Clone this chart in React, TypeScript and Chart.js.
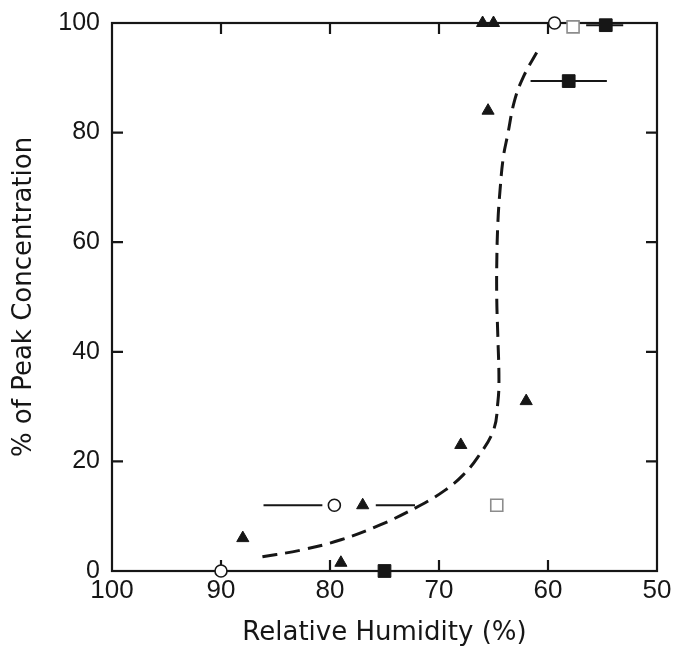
import React, { useEffect, useRef } from 'react';
import { Chart, registerables } from 'chart.js';

Chart.register(...registerables);

// ---- data ----
const triangleX = [88, 77, 79, 68, 65.5, 62, 66, 65];
const triangleY = [6, 12, 1.5, 23, 84, 31, 100, 100];

const openCircleX = [90, 79.6, 59.4];
const openCircleY = [0, 12, 100];

const openSquareX = [64.7, 57.7];
const openSquareY = [12, 99.3];

const filledSquareX = [75, 58.1, 54.7];
const filledSquareY = [0, 89.4, 99.6];

// horizontal error bars: y, from, to
const errorBarY = [0, 12, 100, 12, 0, 89.4, 99.6];
const errorBarFrom = [94.2, 86.1, 63.2, 75.8, 77.7, 61.6, 56.5];
const errorBarTo = [86.2, 80.7, 59.9, 72.2, 71.9, 54.6, 53.1];

// dashed fitted curve
const curveX = [86.2, 82.7, 79.0, 75.4, 71.7, 69.4, 67.8, 66.5, 65.0, 64.6, 64.5, 64.6, 64.7, 64.7, 64.6, 64.4, 64.1, 63.7, 63.1, 62.3, 60.9];
const curveY = [2.6, 3.8, 5.7, 8.4, 12.0, 14.8, 17.5, 20.6, 25.7, 30.8, 34.9, 42.7, 49.5, 56.2, 63.5, 69.5, 75.5, 79.6, 85.6, 90.0, 95.1];

const xTickMarks = [90, 80, 70, 60];
const yTickMarks = [20, 40, 60, 80];

const INK = '#161616';

const pts = (xs: number[], ys: number[]) => xs.map((x, i) => ({ x, y: ys[i] }));

export default function App() {
  const ref = useRef<HTMLCanvasElement>(null);

  useEffect(() => {
    const canvas = ref.current;
    if (!canvas) return;

    const framePlugin = {
      id: 'frameAndBars',
      beforeDatasetsDraw(chart: any) {
        const { ctx, chartArea: a, scales } = chart;
        const xs = scales.x;
        const ys = scales.y;
        ctx.save();
        ctx.strokeStyle = INK;
        ctx.lineWidth = 2.2;
        ctx.strokeRect(a.left, a.top, a.right - a.left, a.bottom - a.top);
        ctx.beginPath();
        for (const v of yTickMarks) {
          const py = ys.getPixelForValue(v);
          ctx.moveTo(a.left, py);
          ctx.lineTo(a.left + 11, py);
          ctx.moveTo(a.right, py);
          ctx.lineTo(a.right - 11, py);
        }
        for (const v of xTickMarks) {
          const px = xs.getPixelForValue(v);
          ctx.moveTo(px, a.bottom);
          ctx.lineTo(px, a.bottom - 11);
          ctx.moveTo(px, a.top);
          ctx.lineTo(px, a.top + 11);
        }
        ctx.stroke();
        ctx.lineWidth = 2;
        ctx.beginPath();
        for (let i = 0; i < errorBarY.length; i++) {
          const py = ys.getPixelForValue(errorBarY[i]);
          ctx.moveTo(xs.getPixelForValue(errorBarFrom[i]), py);
          ctx.lineTo(xs.getPixelForValue(errorBarTo[i]), py);
        }
        ctx.stroke();
        ctx.restore();
      },
    };

    const chart = new Chart(canvas, {
      type: 'scatter',
      data: {
        datasets: [
          {
            label: 'curve',
            data: pts(curveX, curveY),
            showLine: true,
            borderColor: INK,
            borderWidth: 3,
            borderDash: [15, 8],
            pointRadius: 0,
            tension: 0.4,
            clip: false,
          } as any,
          {
            label: 'triangles',
            data: pts(triangleX, triangleY),
            pointStyle: 'triangle',
            pointRadius: 7,
            backgroundColor: INK,
            borderColor: INK,
            borderWidth: 1,
            clip: false,
          },
          {
            label: 'open circles',
            data: pts(openCircleX, openCircleY),
            pointStyle: 'circle',
            pointRadius: 6,
            backgroundColor: '#ffffff',
            borderColor: INK,
            borderWidth: 1.6,
            clip: false,
          },
          {
            label: 'open squares',
            data: pts(openSquareX, openSquareY),
            pointStyle: 'rect',
            pointRadius: 8.5,
            backgroundColor: '#ffffff',
            borderColor: '#8c8c8c',
            borderWidth: 1.6,
            clip: false,
          },
          {
            label: 'filled squares',
            data: pts(filledSquareX, filledSquareY),
            pointStyle: 'rect',
            pointRadius: 9,
            backgroundColor: INK,
            borderColor: INK,
            borderWidth: 1,
            clip: false,
          },
        ],
      },
      options: {
        responsive: false,
        maintainAspectRatio: false,
        animation: false,
        devicePixelRatio: 1,
        layout: { padding: { left: 0, top: 23, right: 26, bottom: 0 } },
        plugins: { legend: { display: false }, tooltip: { enabled: false } },
        scales: {
          x: {
            type: 'linear',
            min: 50,
            max: 100,
            reverse: true,
            grid: { display: false, drawTicks: false },
            border: { display: false },
            ticks: {
              stepSize: 10,
              autoSkip: false,
              maxRotation: 0,
              padding: 4,
              color: INK,
              font: { family: '"Liberation Sans", Arial, sans-serif', size: 26, lineHeight: 1.2 },
            },
            title: {
              display: true,
              text: 'Relative Humidity (%)',
              color: INK,
              padding: { top: 0, bottom: 2 },
              font: { family: '"DejaVu Sans", sans-serif', size: 26, lineHeight: 1.2 },
            },
            afterFit(scale: any) {
              scale.height = 80;
              scale.paddingLeft = 0;
              scale.paddingRight = 0;
            },
          },
          y: {
            type: 'linear',
            min: 0,
            max: 100,
            grid: { display: false, drawTicks: false },
            border: { display: false },
            ticks: {
              stepSize: 20,
              autoSkip: false,
              padding: 12,
              color: INK,
              font: { family: '"Liberation Sans", Arial, sans-serif', size: 25, lineHeight: 1.2 },
            },
            title: {
              display: true,
              text: '% of Peak Concentration',
              color: INK,
              padding: { top: 9, bottom: 0 },
              font: { family: '"DejaVu Sans", sans-serif', size: 26, lineHeight: 1.2 },
            },
            afterFit(scale: any) {
              scale.width = 112;
              scale.paddingTop = 0;
              scale.paddingBottom = 0;
            },
          },
        },
      },
      plugins: [framePlugin],
    });

    return () => chart.destroy();
  }, []);

  return (
    <div style={{ position: 'fixed', left: 0, top: 0, width: 683, height: 651, background: '#fff' }}>
      <canvas ref={ref} width={683} height={651} style={{ display: 'block', width: 683, height: 651 }} />
    </div>
  );
}
